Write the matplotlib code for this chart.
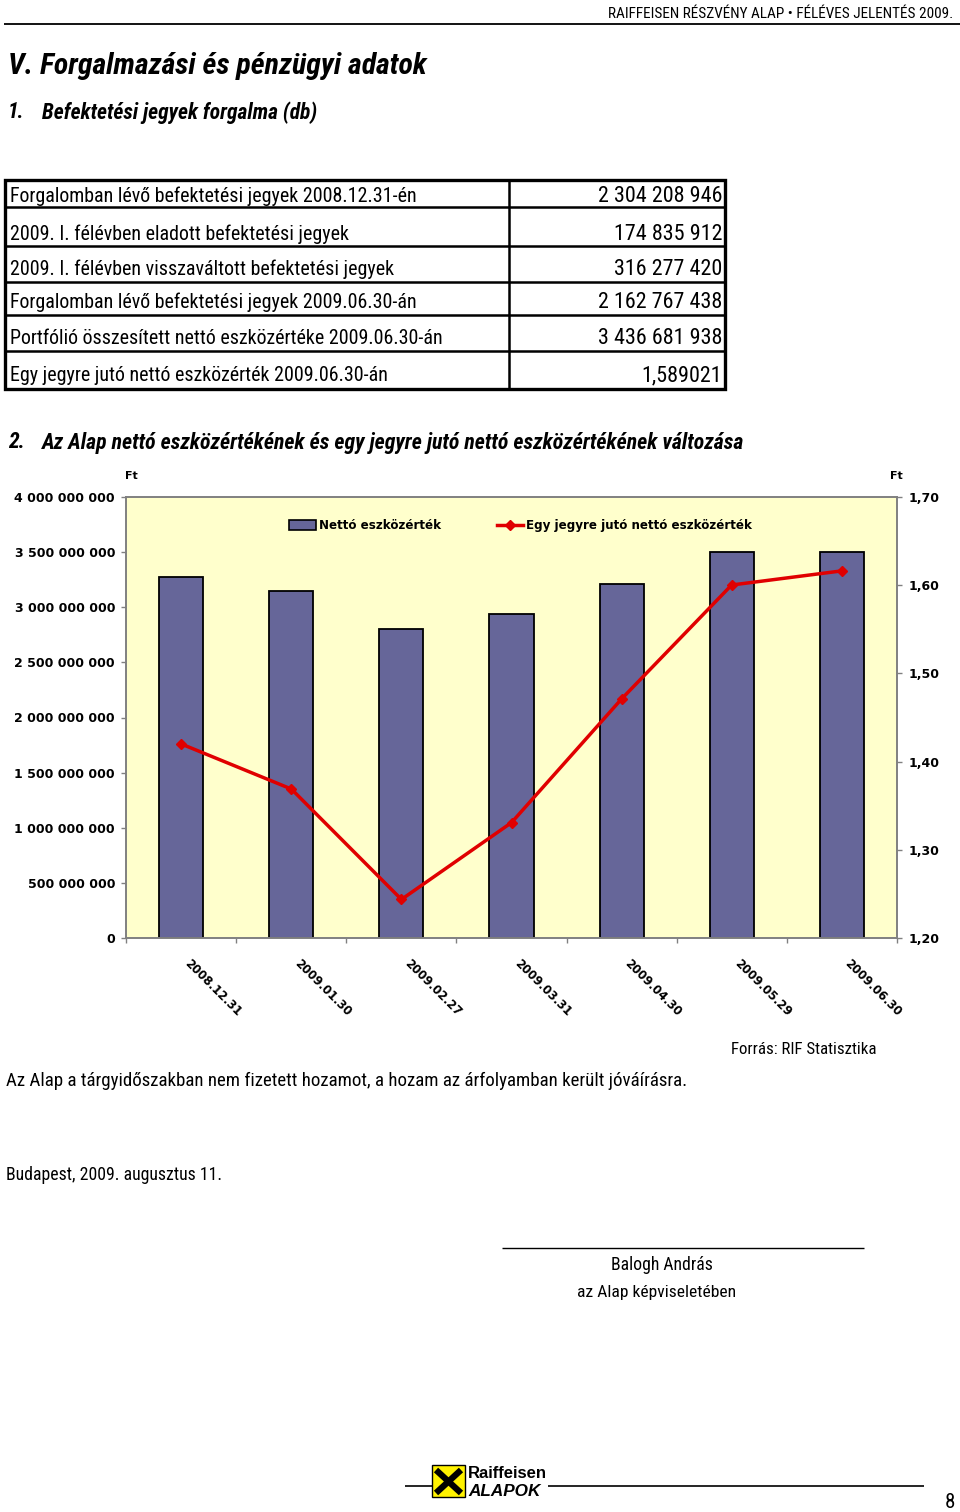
import numpy as np
import matplotlib
matplotlib.use('Agg')
import matplotlib.pyplot as plt
import matplotlib.transforms as mtransforms
from matplotlib.patches import Rectangle, Patch
from matplotlib.lines import Line2D
from matplotlib.ticker import MultipleLocator, FuncFormatter

# ---------------- data ----------------
dates = ['2008.12.31', '2009.01.30', '2009.02.27', '2009.03.31',
         '2009.04.30', '2009.05.29', '2009.06.30']
net_asset_value = [3.270e9, 3.145e9, 2.805e9, 2.935e9, 3.205e9, 3.495e9, 3.500e9]
unit_value = [1.420, 1.369, 1.244, 1.331, 1.471, 1.600, 1.616]

table_labels = [
    'Forgalomban lévő befektetési jegyek 2008.12.31-én',
    '2009. I. félévben eladott befektetési jegyek',
    '2009. I. félévben visszaváltott befektetési jegyek',
    'Forgalomban lévő befektetési jegyek 2009.06.30-án',
    'Portfólió összesített nettó eszközértéke 2009.06.30-án',
    'Egy jegyre jutó nettó eszközérték 2009.06.30-án',
]
table_values = ['2 304 208 946', '174 835 912', '316 277 420',
                '2 162 767 438', '3 436 681 938', '1,589021']

series_bar = 'Nettó eszközérték'
series_line = 'Egy jegyre jutó nettó eszközérték'

# ---------------- page setup ----------------
W, H = 960, 1512
fig = plt.figure(figsize=(W / 100, H / 100), dpi=100)
renderer = fig.canvas.get_renderer()

BODY = ['Liberation Sans Narrow', 'Roboto Condensed', 'Open Sans Condensed',
        'Liberation Sans', 'DejaVu Sans']
CHART = ['DejaVu Sans']
DY = 2.5  # small vertical nudge so bbox-centred text sits on the reference baseline


def fx(x):
    return x / W


def fy(y):
    return 1 - y / H


def fit(x, y, s, width, size=12, ha='left', va='center', family=BODY, **kw):
    t = fig.text(fx(x), fy(y + DY), s, fontsize=size, ha=ha, va=va, family=family, **kw)
    bb = t.get_window_extent(renderer=renderer)
    t.set_fontsize(size * width / bb.width)
    return t


def put(x, y, s, size, ha='left', va='center', family=BODY, **kw):
    return fig.text(fx(x), fy(y + DY), s, fontsize=size, ha=ha, va=va, family=family, **kw)


def hline(x0, x1, y, lw=1.0, color='black'):
    fig.add_artist(Line2D([fx(x0), fx(x1)], [fy(y), fy(y)], transform=fig.transFigure,
                          color=color, lw=lw, solid_capstyle='butt'))


def vline(x, y0, y1, lw=1.0, color='black'):
    fig.add_artist(Line2D([fx(x), fx(x)], [fy(y0), fy(y1)], transform=fig.transFigure,
                          color=color, lw=lw, solid_capstyle='butt'))


# header
fit(953, 12, 'RAIFFEISEN RÉSZVÉNY ALAP • FÉLÉVES JELENTÉS 2009.', 345, ha='right')
hline(4, 960, 24, lw=1.3)

# headings
fit(8, 64, 'V. Forgalmazási és pénzügyi adatok', 419, weight='bold', style='italic')
h1 = fit(42, 110, 'Befektetési jegyek forgalma (db)', 275, weight='bold', style='italic')
put(8, 110, '1.', h1.get_fontsize(), weight='bold', style='italic')

# table
row_lines = [180, 207.3, 246, 281.7, 315, 351, 389]
text_y = [194, 232, 267, 300, 336, 373]
t0 = fit(10, text_y[0], table_labels[0], 407)
tsize = t0.get_fontsize()
for lab, ty in zip(table_labels[1:], text_y[1:]):
    put(10, ty, lab, tsize)
v0 = fit(722, text_y[0], table_values[0], 124, ha='right')
vsize = v0.get_fontsize()
for val, ty in zip(table_values[1:], text_y[1:]):
    put(722, ty, val, vsize, ha='right')
for ry in row_lines[1:-1]:
    hline(5, 725, ry, lw=1.8)
vline(509.3, 180, 389, lw=1.8)
fig.add_artist(Rectangle((fx(5), fy(389)), (725 - 5) / W, (389 - 180) / H,
                         transform=fig.transFigure, fill=False, lw=2.4, edgecolor='black'))

# chart heading
h2 = fit(42, 440, 'Az Alap nettó eszközértékének és egy jegyre jutó nettó eszközértékének változása',
         702, weight='bold', style='italic')
put(8, 440, '2.', h2.get_fontsize(), weight='bold', style='italic')

# ---------------- chart ----------------
BAR_C = '#666699'
LINE_C = '#E00000'
GRAY = '#808080'

ax = fig.add_axes([fx(126.3), fy(938.3), (896.7 - 126.3) / W, (938.3 - 496.7) / H])
ax.set_facecolor('#FFFFCC')
xpos = np.arange(len(dates))
ax.bar(xpos, net_asset_value, width=0.4, color=BAR_C, edgecolor='black', lw=1.3, zorder=2)
ax.set_xlim(-0.5, len(dates) - 0.5)
ax.set_ylim(0, 4e9)
ax.yaxis.set_major_locator(MultipleLocator(5e8))
ax.yaxis.set_major_formatter(FuncFormatter(lambda v, p: f"{int(round(v)):,}".replace(',', ' ')))
ax.set_xticks(np.arange(-0.5, len(dates), 1.0))
ax.set_xticklabels([])
ax.tick_params(axis='both', direction='out', length=3.6, width=1, color=GRAY)
ax.tick_params(axis='y', pad=4.5, labelsize=9)
for lab in ax.get_yticklabels():
    lab.set_fontweight('bold')
    lab.set_family(CHART)

ax2 = ax.twinx()
ax2.plot(xpos, unit_value, color=LINE_C, lw=2.5, marker='D', ms=5, zorder=3)
ax2.set_ylim(1.2, 1.7)
ax2.yaxis.set_major_locator(MultipleLocator(0.1))
ax2.yaxis.set_major_formatter(FuncFormatter(lambda v, p: f"{v:.2f}".replace('.', ',')))
ax2.tick_params(axis='y', direction='out', length=3.6, width=1, color=GRAY, pad=5.3, labelsize=9)
for lab in ax2.get_yticklabels():
    lab.set_fontweight('bold')
    lab.set_family(CHART)

for a in (ax, ax2):
    for sp in a.spines.values():
        sp.set_color(GRAY)
        sp.set_linewidth(1.2)

# rotated date labels
offset = mtransforms.ScaledTranslation(10 / 100, -19 / 100, fig.dpi_scale_trans)
trans = mtransforms.blended_transform_factory(ax.transData, ax.transAxes) + offset
for i, d in enumerate(dates):
    ax.text(i, 0, d, transform=trans, rotation=-45, rotation_mode='anchor',
            ha='left', va='top', fontsize=8.5, fontweight='bold', family=CHART)

# axis unit labels
fig.text(fx(131), fy(476), 'Ft', ha='center', va='center', fontsize=8, weight='bold', family=CHART)
fig.text(fx(896), fy(476), 'Ft', ha='center', va='center', fontsize=8, weight='bold', family=CHART)

handles = [Patch(facecolor=BAR_C, edgecolor='black', lw=1.2, label=series_bar),
           Line2D([], [], color=LINE_C, lw=2.5, marker='D', ms=5, label=series_line)]
ax2.legend(handles=handles, loc='center', bbox_to_anchor=(0.512, 0.934), ncol=2,
           frameon=False, prop={'weight': 'bold', 'size': 8.6, 'family': CHART},
           handlelength=2.2, handleheight=0.85, handletextpad=0.25, columnspacing=4.7,
           numpoints=1)

# ---------------- notes ----------------
fit(731, 1047, 'Forrás: RIF Statisztika', 145)
fit(6, 1078, 'Az Alap a tárgyidőszakban nem fizetett hozamot, a hozam az árfolyamban került jóváírásra.', 679)
fit(6, 1173, 'Budapest, 2009. augusztus 11.', 215)
hline(502, 864, 1248, lw=1.0)
fit(662, 1263, 'Balogh András', 101, ha='center')
fit(657, 1290, 'az Alap képviseletében', 158, ha='center')

# ---------------- footer ----------------
hline(405, 432, 1486, lw=1.2)
hline(548, 924, 1486, lw=1.2)
fig.add_artist(Rectangle((fx(432), fy(1497)), 33 / W, 32 / H, transform=fig.transFigure,
                         facecolor='#FFF200', edgecolor='black', lw=1.0))
fig.add_artist(Line2D([fx(436), fx(461)], [fy(1470), fy(1493)], transform=fig.transFigure,
                      color='black', lw=4.5, solid_capstyle='butt'))
fig.add_artist(Line2D([fx(461), fx(436)], [fy(1470), fy(1493)], transform=fig.transFigure,
                      color='black', lw=4.5, solid_capstyle='butt'))
fit(468, 1471, 'Raiffeisen', 79, weight='bold', family=['Liberation Sans', 'DejaVu Sans'])
fit(468, 1489, 'ALAPOK', 72, weight='bold', style='italic', family=['Liberation Sans', 'DejaVu Sans'])
fig.text(fx(955), fy(1502), '8', ha='right', va='center', fontsize=15, family=BODY)

fig.savefig('out.png', dpi=100)
